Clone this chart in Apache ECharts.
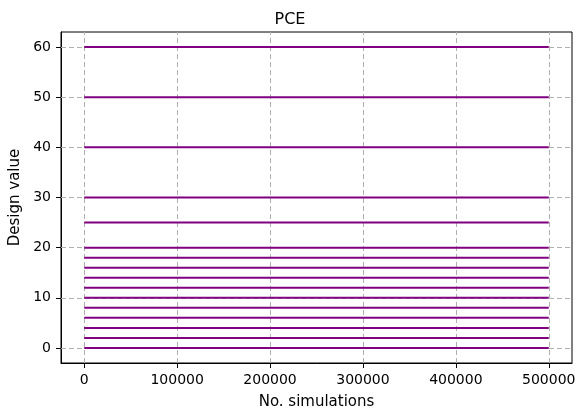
<!DOCTYPE html>
<html><head><meta charset="utf-8">
<script src="https://cdn.jsdelivr.net/npm/echarts@6/dist/echarts.min.js"></script>
<style>html,body{margin:0;padding:0;background:#fff}#c{width:580px;height:416px}</style>
</head><body><div id="c"></div>
<script>
const designValues = [0, 2, 4, 6, 8, 10, 12, 14, 16, 18, 20, 25, 30, 40, 50, 60];
const simStart = 0;
const simEnd = 500000;
const xTicks = [0, 100000, 200000, 300000, 400000, 500000];
const yTicks = [0, 10, 20, 30, 40, 50, 60];

const font = 'DejaVu Sans';
const gridLine = {color: '#b0b0b0', type: [5, 3], width: 1};
const series = designValues.map((v) => ({
  type: 'line',
  data: [[simStart, v], [simEnd, v]],
  showSymbol: false,
  symbol: 'none',
  lineStyle: {color: '#800080', width: 2},
  z: 5,
  silent: true
}));
series.push({
  type: 'line', data: [], z: 1, silent: true,
  markLine: {
    silent: true, symbol: 'none', label: {show: false},
    lineStyle: gridLine,
    data: xTicks.map(x => ({xAxis: x})).concat(yTicks.map(y => ({yAxis: y})))
  }
});
const chart = echarts.init(document.getElementById('c'), null, {renderer: 'canvas'});
chart.setOption({
  animation: false,
  title: {text: 'PCE', left: 'center', top: 7, textStyle: {fontFamily: font, fontSize: 16, fontWeight: 'normal', color: '#000'}},
  grid: {left: 61, right: 8, top: 32, bottom: 53, show: true, borderColor: '#000', borderWidth: 1, containLabel: false, outerBoundsMode: 'none'},
  xAxis: {
    type: 'value', min: -25000, max: 525000,
    name: 'No. simulations', nameLocation: 'middle', nameGap: 32,
    nameTextStyle: {fontFamily: font, fontSize: 15, color: '#000'},
    axisLine: {show: true, onZero: false, lineStyle: {color: '#000'}},
    axisTick: {show: true, inside: false, length: 5, customValues: xTicks, lineStyle: {color: '#000'}},
    axisLabel: {customValues: xTicks, formatter: v => String(v), fontFamily: font, fontSize: 14, color: '#000', margin: 10},
    splitLine: {show: false}
  },
  yAxis: {
    type: 'value', min: -3, max: 63,
    name: 'Design value', nameLocation: 'middle', nameGap: 36,
    nameTextStyle: {fontFamily: font, fontSize: 15, color: '#000'},
    axisLine: {show: true, onZero: false, lineStyle: {color: '#000'}},
    axisTick: {show: true, inside: false, length: 5, customValues: yTicks, lineStyle: {color: '#000'}},
    axisLabel: {customValues: yTicks, formatter: v => String(v), fontFamily: font, fontSize: 14, color: '#000', margin: 10},
    splitLine: {show: false}
  },
  series: series
});
</script></body></html>
